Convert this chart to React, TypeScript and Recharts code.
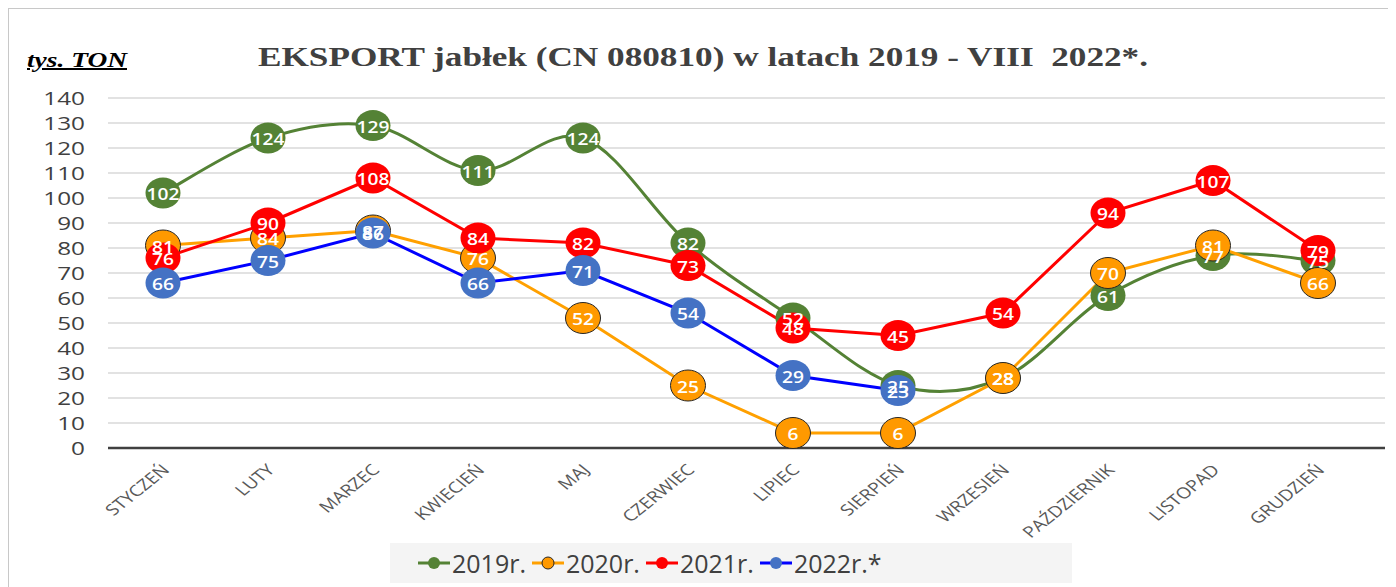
import React from 'react';
import { LineChart, Line, XAxis, YAxis, CartesianGrid, Legend, LabelList, Customized } from 'recharts';

const months = ['STYCZEŃ', 'LUTY', 'MARZEC', 'KWIECIEŃ', 'MAJ', 'CZERWIEC', 'LIPIEC', 'SIERPIEŃ', 'WRZESIEŃ', 'PAŹDZIERNIK', 'LISTOPAD', 'GRUDZIEŃ'];
const y2019 = [102, 124, 129, 111, 124, 82, 52, 25, 28, 61, 77, 75];
const y2020 = [81, 84, 87, 76, 52, 25, 6, 6, 28, 70, 81, 66];
const y2021 = [76, 90, 108, 84, 82, 73, 48, 45, 54, 94, 107, 79];
const y2022 = [66, 75, 86, 66, 71, 54, 29, 23, null, null, null, null];
const yTicks = [0, 10, 20, 30, 40, 50, 60, 70, 80, 90, 100, 110, 120, 130, 140];
const seriesNames = ['2019r.', '2020r.', '2021r.', '2022r.*'];

const title = 'EKSPORT jabłek (CN 080810) w latach 2019 - VIII  2022*.';
const unitLabel = 'tys. TON';

const data = months.map((m, i) => ({
  month: m,
  y2019: y2019[i],
  y2020: y2020[i],
  y2021: y2021[i],
  y2022: y2022[i],
}));

const COLORS = {
  g: '#548235',
  o: '#FFA000',
  oFill: '#FF9900',
  r: '#FF0000',
  bLine: '#0000FF',
  bFill: '#4472C4',
};

const SANS = "'Open Sans', 'Noto Sans', sans-serif";

// Excel-like smoothed line (Catmull-Rom as cubic Bezier)
function excelSmooth(context: any) {
  let pts: [number, number][] = [];
  return {
    areaStart() {},
    areaEnd() {},
    lineStart() {
      pts = [];
    },
    point(x: number, y: number) {
      pts.push([+x, +y]);
    },
    lineEnd() {
      if (!pts.length) return;
      context.moveTo(pts[0][0], pts[0][1]);
      const t = 1 / 6;
      for (let i = 0; i < pts.length - 1; i++) {
        const p0 = pts[i - 1] || pts[i];
        const p1 = pts[i];
        const p2 = pts[i + 1];
        const p3 = pts[i + 2] || p2;
        context.bezierCurveTo(
          p1[0] + (p2[0] - p0[0]) * t,
          p1[1] + (p2[1] - p0[1]) * t,
          p2[0] - (p3[0] - p1[0]) * t,
          p2[1] - (p3[1] - p1[1]) * t,
          p2[0],
          p2[1]
        );
      }
    },
  };
}

const makeDot = (fill: string, stroke: string, sw: number) => (props: any) => {
  const { cx, cy, index } = props;
  if (cx == null || cy == null || props.value == null) return <g key={`d-${index}`} />;
  return <ellipse key={`d-${index}`} cx={cx} cy={cy} rx={17.5} ry={15.5} fill={fill} stroke={stroke} strokeWidth={sw} />;
};

const XTick = (props: any) => {
  const { x, y, payload } = props;
  const ax = x + 4;
  const ay = y + 12;
  return (
    <text
      transform={`translate(${ax} ${ay}) scale(1.25 1) rotate(-45)`}
      x={0}
      y={0}
      textAnchor="end"
      dominantBaseline="middle"
      fontFamily={SANS}
      fontSize={15.5}
      fill="#595959"
    >
      {payload.value}
    </text>
  );
};

const YTick = (props: any) => {
  const { x, y, payload } = props;
  return (
    <text
      transform={`translate(${x} ${y}) scale(1.35 1)`}
      x={0}
      y={0}
      textAnchor="end"
      dominantBaseline="central"
      fontFamily={SANS}
      fontSize={18}
      fill="#404040"
    >
      {payload.value}
    </text>
  );
};

const ValueLabel = (props: any) => {
  const { value } = props;
  if (value == null) return null;
  const vb = props.viewBox || {};
  const x = (vb.x ?? props.x) + (vb.width || 0) / 2;
  const y = (vb.y ?? props.y) + (vb.height || 0) / 2;
  if (!isFinite(x) || !isFinite(y)) return null;
  return (
    <text
      transform={`translate(${x} ${y}) scale(1.2 1)`}
      x={0}
      y={1}
      textAnchor="middle"
      dominantBaseline="central"
      fontFamily={SANS}
      fontSize={16}
      fontWeight={600}
      fill="#ffffff"
    >
      {value}
    </text>
  );
};

const legendItems = [
  { name: seriesNames[0], line: COLORS.g, fill: COLORS.g, stroke: 'none' },
  { name: seriesNames[1], line: COLORS.o, fill: COLORS.oFill, stroke: '#262626' },
  { name: seriesNames[2], line: COLORS.r, fill: COLORS.r, stroke: 'none' },
  { name: seriesNames[3], line: COLORS.bLine, fill: COLORS.bFill, stroke: 'none' },
];

const LegendContent = () => (
  <div
    style={{
      width: 682,
      height: 40,
      boxSizing: 'border-box',
      paddingLeft: 28,
      background: '#f4f4f4',
      display: 'flex',
      alignItems: 'center',
      justifyContent: 'flex-start',
      fontFamily: SANS,
      fontSize: 25,
      color: '#404040',
    }}
  >
    {legendItems.map((it, i) => (
      <div key={it.name} style={{ display: 'flex', alignItems: 'center', marginRight: i < 3 ? 6 : 0 }}>
        <svg width={32} height={16} style={{ marginRight: 2 }}>
          <line x1={0} y1={8} x2={32} y2={8} stroke={it.line} strokeWidth={3} />
          <circle cx={16} cy={8} r={6} fill={it.fill} stroke={it.stroke} strokeWidth={1} />
        </svg>
        <span>{it.name}</span>
      </div>
    ))}
  </div>
);

const Titles = () => (
  <g>
    <text
      x={249}
      y={57}
      textLength={890}
      lengthAdjust="spacingAndGlyphs"
      fontFamily="'Liberation Serif', 'Times New Roman', serif"
      fontWeight="bold"
      fontSize={27}
      fill="#404040"
      style={{ whiteSpace: 'pre' }}
    >
      {title}
    </text>
    <text
      x={18}
      y={58}
      textLength={100}
      lengthAdjust="spacingAndGlyphs"
      fontFamily="'Liberation Serif', 'Times New Roman', serif"
      fontWeight="bold"
      fontStyle="italic"
      fontSize={20}
      fill="#000"
      textDecoration="underline"
    >
      {unitLabel}
    </text>
  </g>
);

export default function App() {
  return (
    <div
      style={{
        width: 1388,
        height: 579,
        boxSizing: 'border-box',
        borderLeft: '1px solid #c8c8c8',
        borderTop: '1px solid #c8c8c8',
        background: '#fff',
        overflow: 'hidden',
      }}
    >
      <LineChart width={1387} height={578} data={data} margin={{ top: 89, right: 11, bottom: 49, left: 0 }}>
        <CartesianGrid vertical={false} stroke="#d9d9d9" strokeWidth={1.5} />
        <XAxis
          dataKey="month"
          interval={0}
          tick={<XTick />}
          tickLine={false}
          axisLine={{ stroke: '#404040', strokeWidth: 2.5 }}
          padding={{ left: 55, right: 67 }}
          height={90}
        />
        <YAxis
          domain={[0, 140]}
          ticks={yTicks}
          interval={0}
          tick={<YTick />}
          tickLine={false}
          axisLine={false}
          tickSize={0}
          tickMargin={23}
          width={99}
        />
        <Legend
          layout="vertical"
          align="center"
          verticalAlign="middle"
          content={<LegendContent />}
          wrapperStyle={{ position: 'absolute', left: 381, top: 534, width: 682, height: 40 }}
        />
        <Customized component={Titles} />
        <Line
          dataKey="y2019"
          name={seriesNames[0]}
          type={excelSmooth as any}
          stroke={COLORS.g}
          strokeWidth={3}
          dot={makeDot(COLORS.g, COLORS.g, 0)}
          activeDot={false}
          isAnimationActive={false}
        />
        <Line
          dataKey="y2020"
          name={seriesNames[1]}
          type="linear"
          stroke={COLORS.o}
          strokeWidth={3}
          dot={makeDot(COLORS.oFill, '#262626', 1)}
          activeDot={false}
          isAnimationActive={false}
        />
        <Line
          dataKey="y2021"
          name={seriesNames[2]}
          type="linear"
          stroke={COLORS.r}
          strokeWidth={3}
          dot={makeDot(COLORS.r, COLORS.r, 0)}
          activeDot={false}
          isAnimationActive={false}
        />
        <Line
          dataKey="y2022"
          name={seriesNames[3]}
          type="linear"
          stroke={COLORS.bLine}
          strokeWidth={3}
          dot={makeDot(COLORS.bFill, COLORS.bFill, 0)}
          activeDot={false}
          isAnimationActive={false}
        />
        {(['y2019', 'y2020', 'y2021', 'y2022'] as const).map((k) => (
          <Line
            key={`lbl-${k}`}
            dataKey={k}
            stroke="none"
            dot={false}
            activeDot={false}
            legendType="none"
            isAnimationActive={false}
          >
            <LabelList dataKey={k} content={<ValueLabel />} />
          </Line>
        ))}
      </LineChart>
    </div>
  );
}
